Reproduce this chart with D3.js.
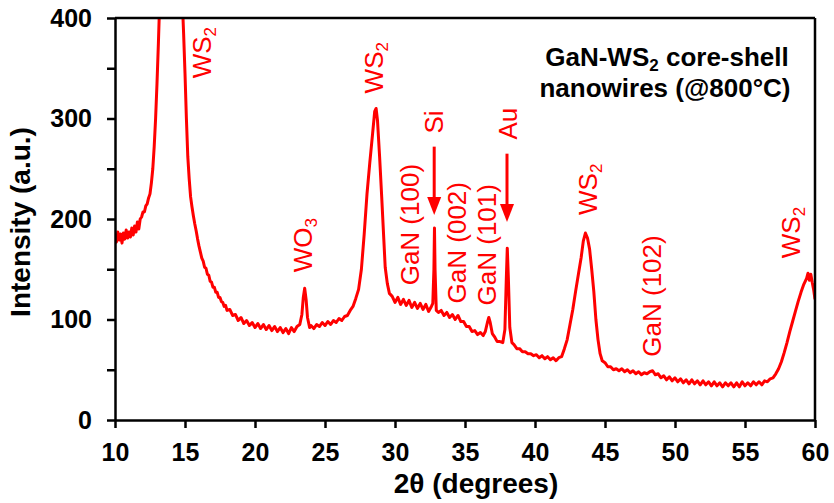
<!DOCTYPE html>
<html>
<head>
<meta charset="utf-8">
<script src="https://cdn.jsdelivr.net/npm/d3@7/dist/d3.min.js"></script>
<style>
  body { margin: 0; background: #fff; }
  svg { display: block; font-family: Arial, "Liberation Sans", sans-serif; }
</style>
</head>
<body>
<svg width="834" height="503"></svg>
<script>
// XRD pattern: [2theta, intensity]
var pattern = [
  [10.0, 182], [10.1, 177], [10.2, 187], [10.3, 179], [10.4, 185], [10.5, 176], [10.6, 186], [10.7, 180],
  [10.8, 189], [10.9, 181], [11.0, 187], [11.1, 182], [11.2, 191], [11.3, 184], [11.4, 193], [11.5, 187],
  [11.6, 197], [11.7, 190], [11.8, 200], [11.9, 202], [12.0, 207], [12.1, 207], [12.2, 213], [12.3, 215],
  [12.4, 221], [12.5, 225], [12.6, 236], [12.7, 250], [12.8, 272], [12.9, 300], [13.0, 335], [13.1, 375],
  [13.2, 420], [13.4, 560], [13.7, 900], [14.0, 1100], [14.3, 900], [14.6, 560], [14.8, 420], [14.9, 385],
  [15.0, 345], [15.1, 300], [15.2, 262], [15.3, 240], [15.4, 222], [15.5, 212], [15.6, 203], [15.7, 195],
  [15.8, 188], [15.9, 180], [16.0, 173], [16.1, 167], [16.2, 161], [16.3, 158], [16.4, 152], [16.5, 151],
  [16.6, 145], [16.7, 144], [16.8, 138], [16.9, 137], [17.0, 132], [17.1, 132], [17.2, 127], [17.3, 127],
  [17.4, 122], [17.5, 122], [17.6, 118], [17.7, 117], [17.8, 113], [17.9, 114], [18.0, 109], [18.2, 110],
  [18.4, 104], [18.6, 105], [18.8, 99], [19.0, 102], [19.2, 96], [19.4, 99], [19.6, 94], [19.8, 97],
  [20.0, 92], [20.2, 96], [20.4, 91], [20.6, 95], [20.8, 90], [21.0, 94], [21.2, 89], [21.4, 93],
  [21.6, 88], [21.8, 92], [22.0, 87], [22.2, 91], [22.4, 86], [22.6, 92], [22.8, 88], [23.0, 93],
  [23.2, 95], [23.35, 105], [23.45, 122], [23.55, 131], [23.65, 120], [23.75, 102], [23.9, 92], [24.0, 94],
  [24.2, 91], [24.4, 95], [24.6, 93], [24.8, 97], [25.0, 94], [25.2, 98], [25.4, 95], [25.6, 99],
  [25.8, 97], [26.0, 101], [26.2, 99], [26.4, 103], [26.6, 104], [26.8, 109], [27.0, 113], [27.2, 121],
  [27.4, 130], [27.6, 150], [27.8, 185], [28.0, 225], [28.2, 256], [28.4, 285], [28.55, 307], [28.65, 310],
  [28.75, 298], [28.9, 262], [29.05, 222], [29.2, 180], [29.3, 152], [29.45, 136], [29.6, 126], [29.8, 123],
  [30.0, 117], [30.2, 122], [30.4, 115], [30.6, 120], [30.8, 114], [31.0, 119], [31.2, 112], [31.4, 117],
  [31.6, 111], [31.8, 116], [32.0, 110], [32.2, 115], [32.4, 108], [32.6, 113], [32.7, 116], [32.78, 150],
  [32.82, 191], [32.86, 150], [32.95, 109], [33.1, 107], [33.3, 109], [33.5, 104], [33.7, 107], [33.9, 102],
  [34.1, 105], [34.3, 100], [34.5, 104], [34.7, 98], [34.9, 98], [35.1, 93], [35.3, 93], [35.5, 88],
  [35.7, 89], [35.9, 85], [36.1, 87], [36.3, 84], [36.45, 88], [36.6, 97], [36.7, 102], [36.8, 97],
  [36.95, 86], [37.1, 83], [37.3, 78], [37.5, 78], [37.7, 77], [37.85, 90], [37.95, 140], [38.02, 171],
  [38.1, 140], [38.2, 92], [38.35, 77], [38.5, 75], [38.7, 71], [38.9, 71], [39.1, 68], [39.3, 68],
  [39.5, 66], [39.7, 66], [39.9, 64], [40.1, 65], [40.3, 62], [40.5, 64], [40.7, 61], [40.9, 63],
  [41.1, 60], [41.3, 62], [41.5, 59], [41.7, 62], [41.9, 63], [42.1, 71], [42.3, 80], [42.5, 95],
  [42.7, 110], [42.9, 128], [43.1, 145], [43.3, 162], [43.45, 178], [43.6, 186], [43.75, 181], [43.9, 170],
  [44.05, 150], [44.2, 128], [44.35, 100], [44.5, 80], [44.65, 66], [44.8, 59], [45.0, 57], [45.2, 53],
  [45.4, 53], [45.6, 50], [45.8, 51], [46.0, 49], [46.2, 51], [46.4, 48], [46.6, 50], [46.8, 47],
  [47.0, 49], [47.2, 46], [47.4, 48], [47.6, 45], [47.8, 47], [48.0, 46], [48.2, 48], [48.4, 49],
  [48.6, 45], [48.8, 46], [49.0, 42], [49.2, 44], [49.4, 40], [49.6, 43], [49.8, 39], [50.0, 42],
  [50.2, 38], [50.4, 41], [50.6, 37], [50.8, 40], [51.0, 36], [51.2, 40], [51.4, 36], [51.6, 39],
  [51.8, 35], [52.0, 39], [52.2, 35], [52.4, 38], [52.6, 34], [52.8, 38], [53.0, 34], [53.2, 37],
  [53.4, 33], [53.6, 37], [53.8, 34], [54.0, 37], [54.2, 33], [54.4, 37], [54.6, 33], [54.8, 38],
  [55.0, 34], [55.2, 37], [55.4, 34], [55.6, 38], [55.8, 35], [56.0, 38], [56.2, 35], [56.4, 39],
  [56.6, 38], [56.8, 41], [57.0, 42], [57.2, 46], [57.4, 51], [57.6, 58], [57.8, 67], [58.0, 77],
  [58.2, 88], [58.4, 98], [58.6, 108], [58.8, 118], [59.0, 127], [59.2, 135], [59.4, 141], [59.5, 146],
  [59.6, 139], [59.7, 145], [59.8, 137], [59.9, 130], [60.0, 120]
];

var xTicks = [10, 15, 20, 25, 30, 35, 40, 45, 50, 55, 60];
var yTicks = [0, 50, 100, 150, 200, 250, 300, 350, 400];
var yLabelled = [0, 100, 200, 300, 400];

// rotated phase labels, anchored at the bottom of the text
var peakLabels = [
  { text: "WS", sub: "2", angle: 16.85, value: 340 },
  { text: "WO", sub: "3", angle: 24.1, value: 147 },
  { text: "WS", sub: "2", angle: 29.14, value: 325 },
  { text: "GaN (100)", sub: "", angle: 31.71, value: 134 },
  { text: "Si", sub: "", angle: 33.4, value: 285 },
  { text: "GaN (002)", sub: "", angle: 35.07, value: 116 },
  { text: "GaN (101)", sub: "", angle: 37.21, value: 114 },
  { text: "Au", sub: "", angle: 38.71, value: 279 },
  { text: "WS", sub: "2", angle: 44.43, value: 204 },
  { text: "GaN (102)", sub: "", angle: 49.0, value: 63 },
  { text: "WS", sub: "2", angle: 58.93, value: 161 }
];

var arrows = [
  { angle: 32.8, from: 272, to: 204 },
  { angle: 38.0, from: 265, to: 197 }
];

var svg = d3.select("svg");
var plotLeft = 115, plotRight = 815, plotTop = 18, plotBottom = 420;

var x = d3.scaleLinear().domain([10, 60]).range([plotLeft, plotRight]);
var y = d3.scaleLinear().domain([0, 400]).range([plotBottom, plotTop]);

svg.append("clipPath")
    .attr("id", "plot-clip")
  .append("rect")
    .attr("x", plotLeft)
    .attr("y", plotTop)
    .attr("width", plotRight - plotLeft)
    .attr("height", plotBottom - plotTop);

var line = d3.line()
    .x(function(d) { return x(d[0]); })
    .y(function(d) { return y(d[1]); });

svg.append("path")
    .datum(pattern)
    .attr("clip-path", "url(#plot-clip)")
    .attr("d", line)
    .style("fill", "none")
    .style("stroke", "#ff0000")
    .style("stroke-width", 3)
    .style("stroke-linejoin", "round");

// frame: top and right
svg.append("line")
    .attr("x1", plotLeft).attr("x2", plotRight)
    .attr("y1", plotTop).attr("y2", plotTop)
    .style("stroke", "#000").style("stroke-width", 2.5);
svg.append("line")
    .attr("x1", plotRight).attr("x2", plotRight)
    .attr("y1", plotTop).attr("y2", plotBottom)
    .style("stroke", "#000").style("stroke-width", 2.5);

var xAxis = svg.append("g")
    .attr("transform", "translate(0," + plotBottom + ")")
    .call(d3.axisBottom(x).tickValues(xTicks).tickSize(8).tickSizeOuter(0).tickPadding(15));

var yAxis = svg.append("g")
    .attr("transform", "translate(" + plotLeft + ",0)")
    .call(d3.axisLeft(y).tickValues(yTicks).tickSize(8).tickSizeOuter(0).tickPadding(15)
      .tickFormat(function(d) { return yLabelled.indexOf(d) >= 0 ? d : ""; }));

[xAxis, yAxis].forEach(function(a) {
  a.select(".domain").style("stroke", "#000").style("stroke-width", 2.5);
  a.selectAll(".tick line").style("stroke", "#000").style("stroke-width", 2.5);
  a.selectAll(".tick text")
      .style("font-family", "Arial, 'Liberation Sans', sans-serif")
      .style("font-size", "25px")
      .style("font-weight", "bold")
      .style("fill", "#000");
});

svg.append("text")
    .attr("transform", "translate(30,222) rotate(-90)")
    .attr("text-anchor", "middle")
    .style("font-size", "28px")
    .style("font-weight", "bold")
    .text("Intensity (a.u.)");

svg.append("text")
    .attr("x", 476)
    .attr("y", 493)
    .attr("text-anchor", "middle")
    .style("font-size", "28px")
    .style("font-weight", "bold")
    .text("2θ (degrees)");

// sample caption
var caption = svg.append("text")
    .attr("text-anchor", "middle")
    .style("font-size", "26px")
    .style("font-weight", "bold");
var c1 = caption.append("tspan").attr("x", 667).attr("y", 66);
c1.append("tspan").text("GaN-WS");
c1.append("tspan").attr("dy", 5).style("font-size", "17px").text("2");
c1.append("tspan").attr("dy", -5).text(" core-shell");
caption.append("tspan").attr("x", 665).attr("y", 97).text("nanowires (@800°C)");

// phase labels
var labels = svg.selectAll("text.peak")
    .data(peakLabels)
    .enter()
    .append("text")
    .attr("class", "peak")
    .attr("transform", function(d) {
      return "translate(" + x(d.angle) + "," + y(d.value) + ") rotate(-90)";
    })
    .style("font-size", "26px")
    .style("fill", "#ff0000");

labels.append("tspan").text(function(d) { return d.text; });
labels.filter(function(d) { return d.sub; })
    .append("tspan")
    .attr("dy", 5)
    .style("font-size", "17px")
    .text(function(d) { return d.sub; });

// arrows
svg.selectAll("line.arrow")
    .data(arrows)
    .enter()
    .append("line")
    .attr("class", "arrow")
    .attr("x1", function(d) { return x(d.angle); })
    .attr("x2", function(d) { return x(d.angle); })
    .attr("y1", function(d) { return y(d.from); })
    .attr("y2", function(d) { return y(d.to) - 14; })
    .style("stroke", "#ff0000")
    .style("stroke-width", 3);

svg.selectAll("path.arrow-head")
    .data(arrows)
    .enter()
    .append("path")
    .attr("class", "arrow-head")
    .attr("d", function(d) {
      var ax = x(d.angle), ay = y(d.to);
      return "M" + (ax - 7) + "," + (ay - 18) + "L" + (ax + 7) + "," + (ay - 18) + "L" + ax + "," + ay + "Z";
    })
    .style("fill", "#ff0000");
</script>
</body>
</html>
